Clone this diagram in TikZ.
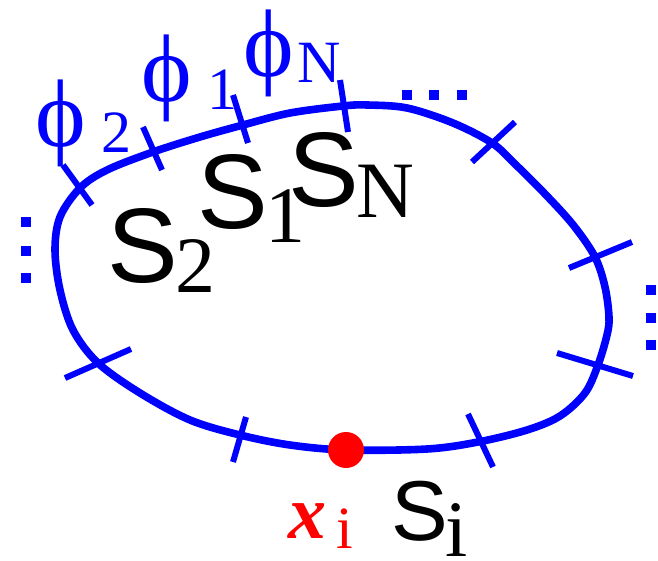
\documentclass[tikz,border=0pt]{standalone}
\usepackage{fontspec}
\usepackage{tikz}
\usetikzlibrary{positioning}
\newfontfamily\labsans{Liberation Sans}
\newfontfamily\labserif{Liberation Serif}
\definecolor{loopblue}{HTML}{0000FF}
\definecolor{ptred}{HTML}{FF0000}
\newcommand{\segS}[3]{{\fontsize{#1}{#1}\selectfont\labsans S}\kern-1.5pt\raisebox{-#3}{\fontsize{40}{40}\selectfont\labserif #2}}
\newcommand{\phiS}[3]{{\fontsize{48}{48}\selectfont\labserif ϕ}\hspace{#3}\raisebox{-#2}{\fontsize{30}{30}\selectfont\labserif #1}}

\begin{document}
\begin{tikzpicture}[x=0.5pt,y=-0.5pt,
  loopline/.style={loopblue,line width=3.8pt},
  tickline/.style={loopblue,line width=3pt},
  lab/.style={inner sep=0pt,anchor=base west}]
\useasboundingbox (0,0) rectangle (658,561);
\draw[loopline] plot[smooth cycle,tension=0.55] coordinates {
  (80,188) (60,217) (55,250) (60,290) (73,330) (98,363) (140,393) (190,420)
  (240,435) (290,445) (346,450) (427,449) (478,442) (527,430) (560,416)
  (585,393) (598,365) (607,335) (609,317) (605,287) (595,257) (574,226)
  (547,196) (515,164) (492,143) (453,123) (407,108) (367,105) (343,106)
  (290,113) (243,125) (200,137) (153,152) (107,170)};
% ticks on the loop
\foreach \ax/\ay/\bx/\by in {63/165/92/205, 143/127/162/170, 233/95/248/143,
  340/80/348/132, 472/162/515/122, 569/268/632/242, 557/353/633/376,
  468/414/493/467, 246/417/233/462, 65/378/131/349}
  \draw[tickline] (\ax,\ay) -- (\bx,\by);
% dots
\foreach \cx/\cy in {407/95, 434/95, 462/95, 26/222, 26/251, 26/278,
  651/290, 651/318, 651/345}
  \fill[loopblue] (\cx-5,\cy-5) rectangle (\cx+5,\cy+5);
\coordinate (xi) at (346,450);
\fill[ptred] (xi) circle[radius=18];
\node[lab,loopblue] (phi2) at (35,147) {\phiS{2}{3pt}{8pt}};
\node[lab,loopblue] (phi1) at (141,102) {\phiS{1}{4pt}{8pt}};
\node[lab,loopblue] (phiN) at (243,77) {\phiS{N}{3pt}{2pt}};
\node[lab] (s2) at (107,282) {\segS{53}{2}{5.5pt}};
\node[lab] (s1) at (197,228) {\segS{53}{1}{7pt}};
\node[lab] (sN) at (288,207) {\segS{53}{N}{5.5pt}};
\node[lab] (si) at (391,540) {\segS{42.5}{i}{8pt}};
\node[lab,ptred] (xlab) at (288,538) {{\fontsize{38}{38}\selectfont\labserif\bfseries\itshape x}\hspace{5pt}\raisebox{-5pt}{\fontsize{30}{30}\selectfont\labserif i}};
\end{tikzpicture}
\end{document}
